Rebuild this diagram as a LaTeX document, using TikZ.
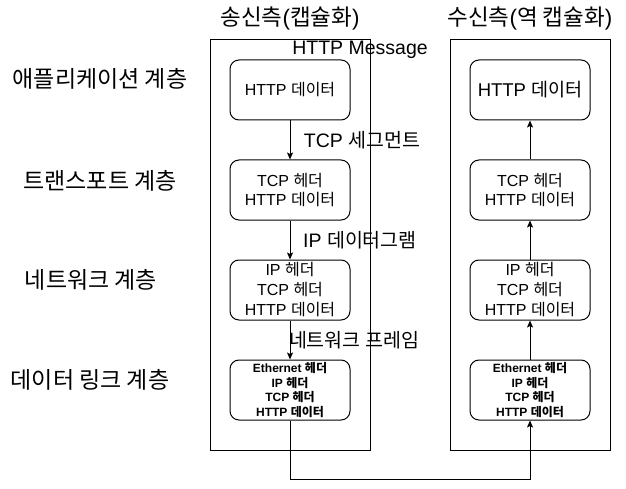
\documentclass[tikz,border=0pt]{standalone}
\usepackage{fontspec}
\setmainfont{Liberation Sans}
\newfontfamily\kr{Noto Sans CJK KR}
\usetikzlibrary{arrows.meta}
\newcommand\fsz[2]{\fontsize{#1}{#2}\selectfont}
\begin{document}
\begin{tikzpicture}[x=1pt,y=-1pt,line width=1pt,
  container/.style={draw,minimum width=160pt,minimum height=410pt,inner sep=0pt},
  layerbox/.style={draw,rounded corners=9pt,minimum width=120pt,minimum height=60pt,align=center,inner sep=0pt},
  smalltext/.style={font=\fsz{16}{18.5}},
  midtext/.style={font=\fsz{16}{20}},
  tinytext/.style={font=\bfseries\fsz{12}{14.5}},
  lbl/.style={font=\fsz{19.5}{22},inner sep=0pt},
  layerlbl/.style={font=\kr\fsz{23}{26},inner sep=0pt},
  title/.style={font=\fsz{22.5}{26},inner sep=0pt},
  arr/.style={-{Stealth[length=7pt,width=6pt,inset=1.5pt]}}]
\useasboundingbox (0,0) rectangle (626,489);

% containers
\node[container] (lc) at (290.5,245) {};
\node[container] (rc) at (530.5,245) {};

% titles
\node[title] (lt) at (290,19) {{\kr 송신측}({\kr 캡슐화})};
\node[title] (rt) at (530,19) {{\kr 수신측}({\kr 역 캡슐화})};

% layer labels
\node[layerlbl] (l1) at (100,79) {애플리케이션 계층};
\node[layerlbl] (l2) at (100,181) {트랜스포트 계층};
\node[layerlbl] (l3) at (91,280) {네트워크 계층};
\node[layerlbl] (l4) at (90,380) {데이터 링크 계층};

% sender boxes
\node[layerbox,smalltext] (s1) at (290,90) {HTTP {\kr 데이터}};
\node[layerbox,smalltext] (s2) at (290,190) {TCP {\kr 헤더}\\HTTP {\kr 데이터}};
\node[layerbox,midtext] (s3) at (290,290) {IP {\kr 헤더}\\TCP {\kr 헤더}\\HTTP {\kr 데이터}};
\node[layerbox,tinytext] (s4) at (290,390) {Ethernet {\kr 헤더}\\IP {\kr 헤더}\\TCP {\kr 헤더}\\HTTP {\kr 데이터}};

% receiver boxes
\node[layerbox,font=\fsz{18.5}{22}] (r1) at (530,90) {HTTP {\kr 데이터}};
\node[layerbox,smalltext] (r2) at (530,190) {TCP {\kr 헤더}\\HTTP {\kr 데이터}};
\node[layerbox,midtext] (r3) at (530,290) {IP {\kr 헤더}\\TCP {\kr 헤더}\\HTTP {\kr 데이터}};
\node[layerbox,tinytext] (r4) at (530,390) {Ethernet {\kr 헤더}\\IP {\kr 헤더}\\TCP {\kr 헤더}\\HTTP {\kr 데이터}};

% connector labels
\node[lbl] (m0) at (360,50) {HTTP Message};
\node[lbl] (m1) at (362,140) {TCP {\kr 세그먼트}};
\node[lbl] (m2) at (360,240) {IP {\kr 데이터그램}};
\node[lbl,font=\kr\fsz{19.5}{22}] (m3) at (354,340) {네트워크 프레임};

% sender arrows
\draw[arr] (s1) -- (s2);
\draw[arr] (s2) -- (s3);
\draw[arr] (s3) -- (s4);

% receiver arrows
\draw[arr] (r4) -- (r3);
\draw[arr] (r3) -- (r2);
\draw[arr] (r2) -- (r1);

% physical link
\coordinate (b1) at (290,479);
\coordinate (b2) at (530,479);
\draw[arr] (s4.south) -- (b1) -- (b2) -- (r4.south);
\end{tikzpicture}
\end{document}
